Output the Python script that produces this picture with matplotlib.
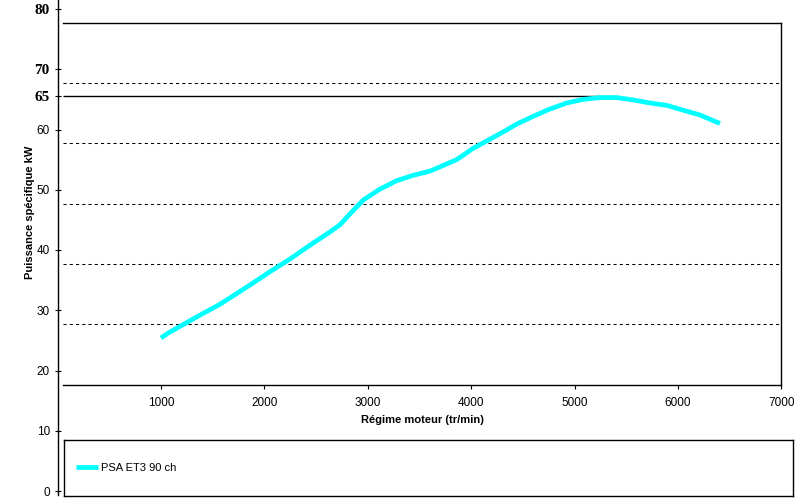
import matplotlib
matplotlib.use("Agg")
from matplotlib import pyplot as plt

# curve
rpm = [1000, 1088, 1379, 1572, 1862, 2055, 2248, 2442, 2635, 2732, 2829, 2958,
       3118, 3280, 3441, 3603, 3699, 3861, 4022, 4183, 4320, 4441, 4602, 4763,
       4925, 5085, 5247, 5408, 5569, 5730, 5892, 6052, 6214, 6407]
kw = [25.4, 26.4, 29.2, 31.0, 34.2, 36.4, 38.5, 40.8, 43.0, 44.2, 46.0, 48.3,
      50.1, 51.5, 52.4, 53.1, 53.8, 55.0, 56.9, 58.4, 59.7, 60.9, 62.2, 63.4,
      64.4, 65.0, 65.3, 65.3, 64.9, 64.4, 64.0, 63.2, 62.4, 61.0]

series_name = "PSA ET3 90 ch"
peak_level = 65.5
peak_rpm = 5247
grid_levels = [27.7, 37.7, 47.7, 57.7, 67.7]

y_ticks = [0, 10, 20, 30, 40, 50, 60, peak_level, 70, 80]
y_labels = ["0", "10", "20", "30", "40", "50", "60", "65", "70", "80"]
x_ticks = [1000, 2000, 3000, 4000, 5000, 6000, 7000]

W, H = 809, 503
plt.rcParams['font.family'] = ['Liberation Sans', 'DejaVu Sans']
fig = plt.figure(figsize=(W / 100, H / 100), dpi=100)


def box(x0, y0, x1, y1):
    # pixel box (top-left origin) -> figure fraction
    return [x0 / W, 1 - y1 / H, (x1 - x0) / W, (y1 - y0) / H]


# long value axis on the left
ax0 = fig.add_axes(box(57.5, 0, 58.5, 495))
ax0.set_ylim((491 - 495) / 6.025, 491 / 6.025)
for s in ["top", "right", "bottom"]:
    ax0.spines[s].set_visible(False)
ax0.spines["left"].set_linewidth(1)
ax0.set_xticks([])
ax0.set_yticks(y_ticks)
ax0.set_yticklabels(y_labels)
ax0.tick_params(axis="y", direction="inout", length=5, width=0.8, labelsize=8.5, pad=3)
for lab in ax0.get_yticklabels():
    if lab.get_text() in ("65", "70", "80"):
        lab.set_fontfamily("Liberation Serif")
        lab.set_fontweight("bold")
        lab.set_fontsize(11)
ax0.patch.set_alpha(0)

# plot area
ax = fig.add_axes(box(63, 23, 781.3, 385))
ax.set_xlim((63 - 57.5) / 103.4 * 1000, 7000)
ax.set_ylim((491 - 385) / 6.025, (491 - 23) / 6.025)
ax.spines["left"].set_visible(False)
for s in ["top", "right", "bottom"]:
    ax.spines[s].set_linewidth(1)
ax.set_yticks(grid_levels)
ax.tick_params(axis="y", left=False, labelleft=False)
ax.grid(axis="y", color="black", linestyle=(0, (3, 3)), linewidth=0.75)
ax.set_xticks(x_ticks)
ax.tick_params(axis="x", direction="out", length=3, width=0.8, labelsize=8.5, pad=6)
ax.hlines(peak_level, ax.get_xlim()[0], peak_rpm, color="black", linewidth=1)
line, = ax.plot(rpm, kw, color="#00ffff", linewidth=3.4, solid_capstyle="butt",
                label=series_name)

fig.text(30 / W, 1 - 212 / H, "Puissance spécifique kW", rotation=90,
         ha="center", va="center", fontsize=8, fontweight="bold")
fig.text(422 / W, 1 - 420 / H, "Régime moteur (tr/min)",
         ha="center", va="center", fontsize=8, fontweight="bold")

# legend box
lax = fig.add_axes(box(64, 440, 793, 496))
lax.set_xticks([])
lax.set_yticks([])
for s in lax.spines.values():
    s.set_linewidth(1)
lax.legend(handles=[line], loc="center left", frameon=False, fontsize=8,
           handlelength=2.0, handletextpad=0.2, borderaxespad=0.7)

fig.savefig("out.png", dpi=100)
